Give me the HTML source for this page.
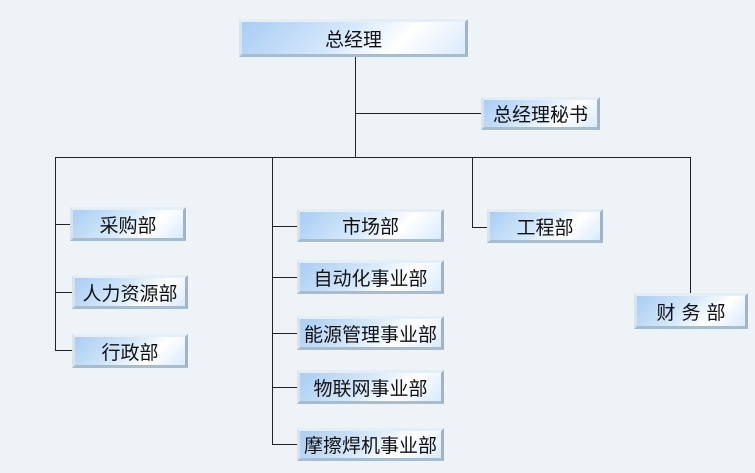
<!DOCTYPE html>
<html><head><meta charset="utf-8"><style>
body{margin:0;width:755px;height:473px;background:#eef3f8;position:relative;overflow:hidden;font-family:"Liberation Sans","Noto Sans CJK SC",sans-serif;}
.b{position:absolute;box-sizing:border-box;border-style:solid;border-width:3px;border-color:#e4eef8 #9fb4c8 #a8bccc #d6e4f2;background:linear-gradient(135deg,#a9cdf3 0%,#d6e8fb 45%,#ffffff 70%,#d9eafc 100%);display:flex;align-items:center;justify-content:center;font-size:19px;color:#111;}
.l{position:absolute;background:#222;}
</style></head><body>
<div class="l" style="left:355px;top:57px;width:1px;height:100px"></div>
<div class="l" style="left:355px;top:113px;width:126px;height:1px"></div>
<div class="l" style="left:55px;top:157px;width:636px;height:1px"></div>
<div class="l" style="left:55px;top:157px;width:1px;height:194px"></div>
<div class="l" style="left:55px;top:224px;width:15px;height:1px"></div>
<div class="l" style="left:55px;top:292px;width:17px;height:1px"></div>
<div class="l" style="left:55px;top:350px;width:17px;height:1px"></div>
<div class="l" style="left:272px;top:157px;width:1px;height:288px"></div>
<div class="l" style="left:272px;top:226px;width:25px;height:1px"></div>
<div class="l" style="left:272px;top:277px;width:25px;height:1px"></div>
<div class="l" style="left:272px;top:333px;width:25px;height:1px"></div>
<div class="l" style="left:272px;top:387px;width:25px;height:1px"></div>
<div class="l" style="left:272px;top:444px;width:25px;height:1px"></div>
<div class="l" style="left:472px;top:157px;width:1px;height:71px"></div>
<div class="l" style="left:472px;top:227px;width:15px;height:1px"></div>
<div class="l" style="left:690px;top:157px;width:1px;height:136px"></div>
<div class="b" style="left:239px;top:19px;width:229px;height:38px">总经理</div>
<div class="b" style="left:481px;top:97px;width:119px;height:33px">总经理秘书</div>
<div class="b" style="left:70px;top:207px;width:116px;height:34px">采购部</div>
<div class="b" style="left:72px;top:275px;width:116px;height:34px">人力资源部</div>
<div class="b" style="left:72px;top:334px;width:116px;height:34px">行政部</div>
<div class="b" style="left:297px;top:209px;width:147px;height:33px">市场部</div>
<div class="b" style="left:297px;top:260px;width:147px;height:34px">自动化事业部</div>
<div class="b" style="left:297px;top:316px;width:147px;height:34px">能源管理事业部</div>
<div class="b" style="left:297px;top:370px;width:147px;height:34px">物联网事业部</div>
<div class="b" style="left:297px;top:428px;width:147px;height:33px">摩擦焊机事业部</div>
<div class="b" style="left:487px;top:209px;width:116px;height:34px">工程部</div>
<div class="b" style="left:634px;top:293px;width:114px;height:36px;letter-spacing:6px;padding-left:6px">财务部</div>
</body></html>
